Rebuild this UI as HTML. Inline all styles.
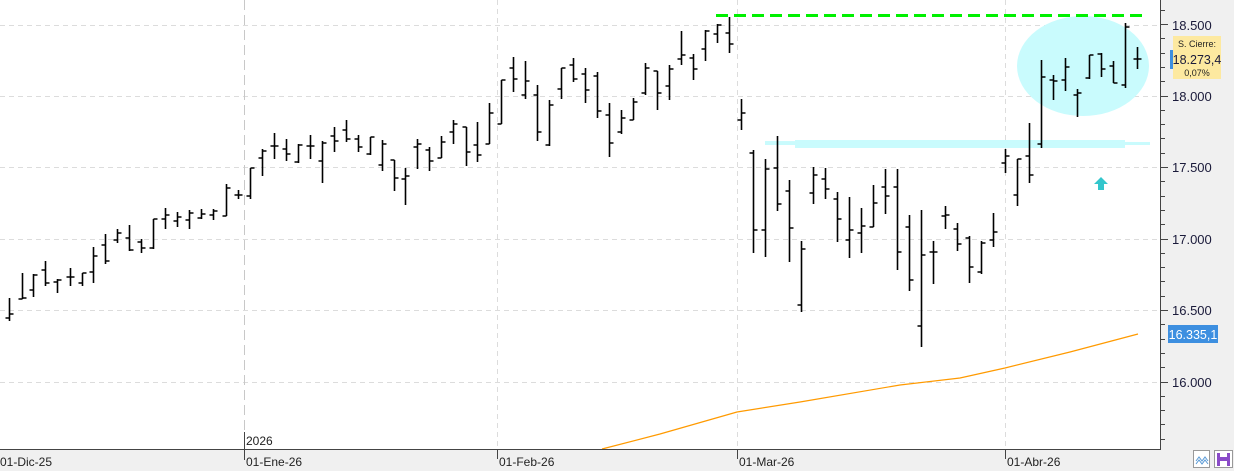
<!DOCTYPE html>
<html><head><style>
body{margin:0;background:#fff;}
svg{display:block;font-family:"Liberation Sans",sans-serif;}
</style></head><body>
<svg width="1234" height="471" viewBox="0 0 1234 471" xmlns="http://www.w3.org/2000/svg">
<rect x="0" y="0" width="1234" height="471" fill="#fff"/>
<g stroke="#dcdcdc" stroke-width="1" stroke-dasharray="5,4">
<line x1="0" y1="25.5" x2="1160" y2="25.5"/><line x1="0" y1="96.5" x2="1160" y2="96.5"/>
<line x1="0" y1="167.5" x2="1160" y2="167.5"/><line x1="0" y1="239.5" x2="1160" y2="239.5"/>
<line x1="0" y1="310.5" x2="1160" y2="310.5"/><line x1="0" y1="382.5" x2="1160" y2="382.5"/>
<line x1="497.5" y1="0" x2="497.5" y2="449"/><line x1="737.5" y1="0" x2="737.5" y2="449"/><line x1="1005.5" y1="0" x2="1005.5" y2="449"/>
</g>
<line x1="244.5" y1="0" x2="244.5" y2="449" stroke="#c8c8c8" stroke-dasharray="10,5"/>
<ellipse cx="1083" cy="66" rx="66" ry="50" fill="#c9fbfd"/>
<polygon points="765,141 1150,142 1150,145 765,145" fill="#c9fbfd"/>
<rect x="795" y="140" width="330" height="8" fill="#c9fbfd"/>
<line x1="716" y1="15.5" x2="1148" y2="15.5" stroke="#00f000" stroke-width="3" stroke-dasharray="12,6"/>
<polygon points="1101,177 1108,184 1104,184 1104,190 1098,190 1098,184 1094,184" fill="#33c6cc"/>
<polyline points="602,449 660,434 737,412 800,402 900,385 960,378 1005,368 1070,352 1138,334" fill="none" stroke="#ff9a00" stroke-width="1.2"/>
<g transform="translate(0.5,0)" stroke="#000" stroke-width="1.6" fill="none">
<path d="M9 298V321M5 318H9M9 314H13M22 273V299M18 299H22M22 298H26M33 274V297M29 290H33M33 275H37M45 261V286M41 270H45M45 283H49M57 279V293M53 282H57M57 280H61M70 268V286M66 277H70M70 277H74M82 273V286M78 283H82M82 273H86M93 247V283M89 272H93M93 256H97M105 234V264M101 245H105M105 261H109M117 229V243M113 240H117M117 233H121M129 225V251M125 238H129M129 250H133M141 239V253M137 242H141M141 248H145M153 219V249M149 248H153M153 219H157M165 208V229M161 219H165M165 215H169M177 212V227M173 221H177M177 217H181M189 210V229M185 220H189M189 213H193M201 209V219M197 218H201M201 214H205M213 209V220M209 215H213M213 211H217M226 184V216M222 216H226M226 188H230M238 190V199M234 195H238M238 195H242M250 168V199M246 196H250M250 168H254M262 149V176M258 158H262M262 151H266M274 133V159M270 146H274M274 146H278M286 139V161M282 149H286M286 154H290M298 144V163M294 162H298M298 145H302M310 135V159M306 146H310M310 146H314M322 141V183M318 161H322M322 143H326M334 127V152M330 136H334M334 141H338M346 120V142M342 130H346M346 139H350M358 135V152M354 139H358M358 147H362M370 137V155M366 154H370M370 137H374M382 140V171M378 165H382M382 144H386M394 160V191M390 160H394M394 178H398M405 168V205M401 179H405M405 176H409M417 139V169M413 147H417M417 144H421M429 147V171M425 150H429M429 161H433M441 136V158M437 158H441M441 142H445M453 120V144M449 132H453M453 124H457M466 127V166M462 127H466M466 152H470M477 122V162M473 145H477M477 155H481M489 103V144M485 144H489M489 113H493M501 80V124M497 124H501M501 80H505M513 57V92M509 68H513M513 79H517M525 61V99M521 95H525M525 81H529M537 85V141M533 95H537M537 132H541M549 100V146M545 145H549M549 105H553M561 68V99M557 89H561M561 68H565M573 58V82M569 65H573M573 79H577M585 68V103M581 74H585M585 90H589M597 72V118M593 76H597M597 111H601M609 103V157M605 115H609M609 143H613M621 110V134M617 132H621M621 118H625M633 98V120M629 120H633M633 102H637M645 63V95M641 93H645M645 68H649M657 71V110M653 71H657M657 93H661M669 65V100M665 86H669M669 69H673M681 31V65M677 59H681M681 55H685M693 54V80M689 58H693M693 69H697M705 30V61M701 49H705M705 31H709M717 24V43M713 34H717M717 25H721M729 17V53M725 33H729M729 44H733M741 99V130M737 120H741M741 113H745M753 150V253M749 153H753M753 230H757M765 159V257M761 230H765M765 169H769M777 136V211M773 168H777M777 204H781M789 180V262M785 191H789M789 228H793M801 241V312M797 305H801M801 249H805M813 167V204M809 193H813M813 175H817M825 168V199M821 179H825M825 189H829M837 192V242M833 199H837M837 219H841M849 197V258M845 240H849M849 230H853M861 208V253M857 233H861M861 226H865M873 185V227M869 227H873M873 203H877M885 169V214M881 187H885M885 196H889M897 169V270M893 187H897M897 252H901M909 215V291M905 227H909M909 280H913M921 210V347M917 326H921M921 255H925M933 241V284M929 252H933M933 252H937M945 206V229M941 216H945M945 215H949M957 223V251M953 229H957M957 244H961M969 236V283M965 238H969M969 267H973M981 241V274M977 272H981M981 243H985M993 213V247M989 240H993M993 232H997M1005 149V173M1001 163H1005M1005 156H1009M1017 159V206M1013 195H1017M1017 159H1021M1029 123V183M1025 156H1029M1029 175H1033M1041 60V148M1037 144H1041M1041 77H1045M1053 75V100M1049 80H1053M1053 81H1057M1065 58V91M1061 80H1065M1065 67H1069M1077 89V117M1073 95H1077M1077 93H1081M1089 55V79M1085 78H1089M1089 55H1093M1101 53V77M1097 54H1101M1101 69H1105M1113 61V83M1109 66H1113M1113 83H1117M1125 23V88M1121 85H1125M1125 27H1129M1137 47V69M1133 59H1137M1137 59H1141"/>
</g>
<rect x="1161" y="0" width="73" height="449" fill="#f0f0f0"/>
<line x1="1160.5" y1="0" x2="1160.5" y2="449" stroke="#444"/>
<path stroke="#444" fill="none" d="M1160 10.5h5M1160 24.5h8M1160 38.5h5M1160 53.5h5M1160 67.5h5M1160 81.5h5M1160 96.5h8M1160 110.5h5M1160 124.5h5M1160 138.5h5M1160 153.5h5M1160 167.5h8M1160 181.5h5M1160 196.5h5M1160 210.5h5M1160 224.5h5M1160 239.5h8M1160 253.5h5M1160 267.5h5M1160 281.5h5M1160 296.5h5M1160 310.5h8M1160 324.5h5M1160 339.5h5M1160 353.5h5M1160 367.5h5M1160 382.5h8M1160 396.5h5M1160 410.5h5M1160 424.5h5M1160 439.5h5"/>
<g font-size="13" fill="#1a1a3a">
<text x="1172" y="30">18.500</text><text x="1172" y="101">18.000</text><text x="1172" y="172">17.500</text>
<text x="1172" y="244">17.000</text><text x="1172" y="315">16.500</text><text x="1172" y="387">16.000</text>
</g>
<rect x="1173" y="36" width="48" height="43" fill="#fde9a0"/>
<rect x="1170" y="50" width="3" height="19" fill="#3d8fe0"/>
<text x="1197" y="47" font-size="9" text-anchor="middle" fill="#222">S. Cierre:</text>
<text x="1197" y="64" font-size="12.5" text-anchor="middle" fill="#1a1a3a">18.273,4</text>
<text x="1197" y="76" font-size="9" text-anchor="middle" fill="#222">0,07%</text>
<rect x="1168" y="325" width="50" height="18" fill="#3d8fe0"/>
<text x="1193" y="339" font-size="12.5" text-anchor="middle" fill="#fff">16.335,1</text>
<rect x="0" y="449" width="1234" height="22" fill="#f0f0f0"/>
<line x1="0" y1="449.5" x2="1161" y2="449.5" stroke="#444"/>
<g stroke="#444"><line x1="244.5" y1="432" x2="244.5" y2="460"/><line x1="497.5" y1="449" x2="497.5" y2="459"/><line x1="737.5" y1="449" x2="737.5" y2="459"/><line x1="1005.5" y1="449" x2="1005.5" y2="459"/></g>
<g font-size="12" fill="#222">
<text x="0" y="466">01-Dic-25</text><text x="246" y="466">01-Ene-26</text><text x="499" y="466">01-Feb-26</text>
<text x="739" y="466">01-Mar-26</text><text x="1007" y="466">01-Abr-26</text><text x="246" y="445">2026</text>
</g>
<rect x="1193.5" y="450.5" width="16" height="17" fill="#fff" stroke="#999"/>
<path d="M1196,461 l3,-4 3,4 3,-4 3,4 M1196,464 l3,-4 3,4 3,-4 3,4" stroke="#5a9ad6" fill="none" stroke-width="1"/>
<rect x="1214.5" y="450.5" width="18" height="17" fill="#fff" stroke="#999"/>
<rect x="1217" y="453" width="13" height="13" fill="#8a4bc8"/>
<rect x="1220" y="453" width="7" height="4" fill="#fff"/><rect x="1220" y="461" width="7" height="5" fill="#fff"/>
</svg>
</body></html>
